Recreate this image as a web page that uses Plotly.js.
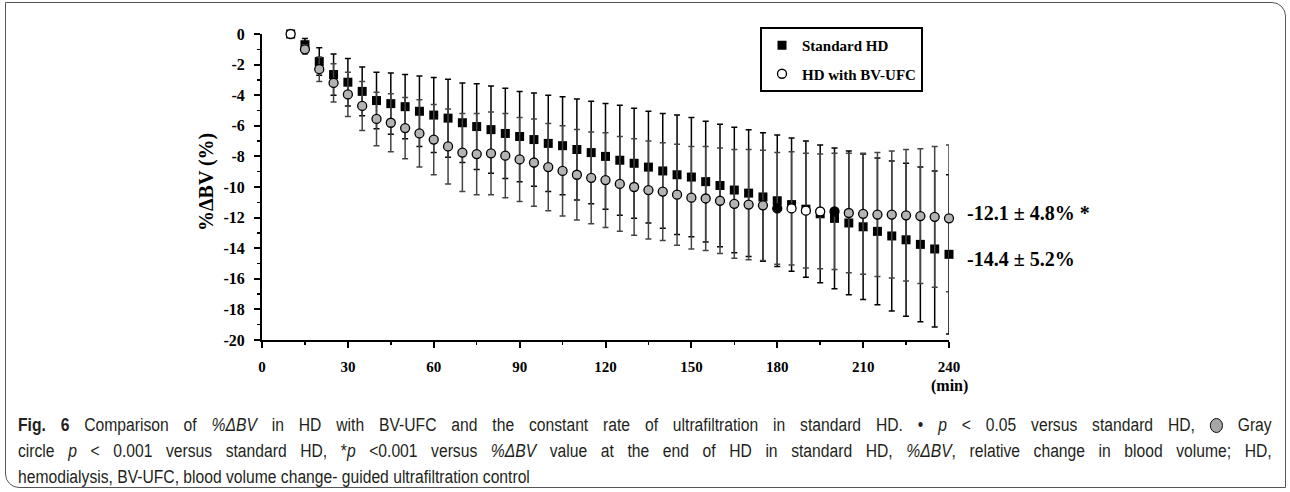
<!DOCTYPE html>
<html>
<head>
<meta charset="utf-8">
<script src="https://cdn.plot.ly/plotly-3.0.1.min.js"></script>
<style>
html,body{margin:0;padding:0;background:#fff;}
#chart{width:1290px;height:492px;position:absolute;left:0;top:0;}
#frame{position:absolute;left:5px;top:2px;width:1279px;height:484px;border:1px solid #555;border-radius:0 14px 0 14px;pointer-events:none;}
.cap{position:absolute;left:18px;width:1441px;font-family:'Liberation Sans',Arial,sans-serif;font-size:18px;line-height:22px;color:#231f20;white-space:nowrap;transform:scaleX(0.87);transform-origin:0 50%;}
.just{text-align:justify;text-align-last:justify;white-space:normal;}
.gc{display:inline-block;width:15px;height:15px;border-radius:50%;background:#a6a6a6;border:1.3px solid #000;vertical-align:-2px;box-sizing:border-box;}
</style>
</head>
<body>
<div id="chart"></div>
<div id="caption"></div>
<div id="frame"></div>
<script>
// ---- data ----
const minutes = [10,15,20,25,30,35,40,45,50,55,60,65,70,75,80,85,90,95,100,105,110,115,120,125,130,135,140,145,150,155,160,165,170,175,180,185,190,195,200,205,210,215,220,225,230,235,240];
const standardMean = [0,-0.7,-1.8,-2.65,-3.15,-3.75,-4.35,-4.55,-4.75,-5.05,-5.3,-5.5,-5.8,-6.05,-6.25,-6.5,-6.7,-6.9,-7.15,-7.3,-7.55,-7.75,-8.0,-8.25,-8.45,-8.7,-8.95,-9.2,-9.35,-9.65,-9.9,-10.2,-10.4,-10.65,-10.9,-11.15,-11.45,-11.75,-12.05,-12.35,-12.6,-12.9,-13.2,-13.45,-13.75,-14.05,-14.4];
const standardSD = [0,0.4,0.9,1.35,1.55,1.6,1.85,2.0,2.1,2.3,2.45,2.55,2.6,2.8,2.85,2.95,2.95,3.05,3.15,3.2,3.3,3.35,3.45,3.6,3.6,3.65,3.75,3.9,3.9,3.95,4.0,4.1,4.15,4.2,4.3,4.35,4.45,4.5,4.6,4.7,4.75,4.8,4.9,5.0,5.05,5.1,5.2];
const bvufcMean = [0,-1.0,-2.3,-3.2,-3.95,-4.7,-5.55,-5.8,-6.15,-6.5,-6.9,-7.35,-7.75,-7.85,-7.8,-7.95,-8.2,-8.4,-8.7,-8.95,-9.2,-9.4,-9.55,-9.8,-10.0,-10.2,-10.3,-10.5,-10.7,-10.75,-10.9,-11.1,-11.15,-11.2,-11.4,-11.4,-11.55,-11.6,-11.6,-11.7,-11.75,-11.8,-11.8,-11.85,-11.9,-11.95,-12.05];
const bvufcSD = [0,0.3,0.8,1.25,1.45,1.6,1.75,1.9,2.0,2.2,2.3,2.45,2.55,2.65,2.7,2.75,2.75,2.85,2.85,2.95,2.95,3.0,3.1,3.1,3.15,3.2,3.2,3.3,3.35,3.4,3.45,3.55,3.6,3.6,3.65,3.7,3.75,3.75,3.8,3.9,3.95,4.05,4.15,4.3,4.4,4.6,4.8];
// significance of HD with BV-UFC vs standard HD at each time point
const bvufcSignificance = ['ns','p001','p001','p001','p001','p001','p001','p001','p001','p001','p001','p001','p001','p001','p001','p001','p001','p001','p001','p001','p001','p001','p001','p001','p001','p001','p001','p001','p001','p001','p001','p001','p001','p001','p05','ns','ns','ns','p05','p001','p001','p001','p001','p001','p001','p001','p001'];
const seriesNames = ['Standard HD','HD with BV-UFC'];
const endLabels = ['-12.1 \u00B1 4.8% *','-14.4 \u00B1 5.2%'];
const xTicks = [0,30,60,90,120,150,180,210,240];
const yTicks = [0,-2,-4,-6,-8,-10,-12,-14,-16,-18,-20];
const yTickLabels = ['0','-2','-4','-6','-8','-10','-12','-14','-16','-18','-20'];
const yTitle = '%\u0394BV (%)';
const xTitle = '(min)';

// ---- styling ----
const sigColor = {ns:'#ffffff', p05:'#000000', p001:'#b3b3b3'};
const serif = 'Liberation Serif, Times New Roman, serif';
const L=262, R=949, T=34, B=340;
const px = x => (x-L)/(R-L);
const py = y => (B-y)/(B-T);

const traces = [
  {
    x: minutes, y: standardMean, name: seriesNames[0], type:'scatter', mode:'markers',
    legendgroup:'a', cliponaxis:false,
    marker:{symbol:'square', size:9, color:'#000', line:{width:0}},
    error_y:{type:'data', array: standardSD, visible:true, color:'#000', thickness:1.5, width:3}
  },
  {
    x: minutes, y: bvufcMean, name: seriesNames[1], type:'scatter', mode:'markers',
    legendgroup:'b', cliponaxis:false,
    marker:{symbol:'circle', size:9, color: bvufcSignificance.map(s=>sigColor[s]), line:{width:1.3, color:'#000'}},
    error_y:{type:'data', array: bvufcSD, visible:true, color:'#444', thickness:1.5, width:3}
  }
];

const annotations = [
  {xref:'paper', yref:'paper', x:px(207), y:py(182), text:yTitle, textangle:-90, showarrow:false,
   font:{family:serif, size:20, color:'#000', weight:'bold'}, xanchor:'center', yanchor:'middle'},
  {xref:'paper', yref:'paper', x:px(949), y:py(386), text:xTitle, showarrow:false,
   font:{family:serif, size:16, color:'#000', weight:'bold'}, xanchor:'center', yanchor:'middle'},
  {xref:'paper', yref:'paper', x:px(965), y:py(213), text:endLabels[0], showarrow:false,
   font:{family:serif, size:20, color:'#000', weight:'bold'}, xanchor:'left', yanchor:'middle'},
  {xref:'paper', yref:'paper', x:px(965), y:py(259), text:endLabels[1], showarrow:false,
   font:{family:serif, size:20, color:'#000', weight:'bold'}, xanchor:'left', yanchor:'middle'}
];

const layout = {
  width:1290, height:492,
  margin:{l:L, r:1290-R, t:T, b:492-B, pad:0},
  paper_bgcolor:'rgba(0,0,0,0)', plot_bgcolor:'rgba(0,0,0,0)',
  showlegend:true,
  legend:{x:px(760), y:py(27), xanchor:'left', yanchor:'top', bgcolor:'#fff', bordercolor:'#000', borderwidth:2,
          font:{family:serif, size:15, color:'#000', weight:'bold'}, traceorder:'grouped', tracegroupgap:6, itemwidth:30},
  xaxis:{range:[0,240], tickvals:xTicks, ticks:'outside', ticklen:6, tickwidth:2, tickcolor:'#000',
         showline:true, linewidth:2, linecolor:'#000', showgrid:false, zeroline:false, ticklabelstandoff:6,
         tickfont:{family:serif, size:15, color:'#000', weight:'bold'},
         minor:{dtick:15, tick0:0, ticks:'outside', ticklen:3, tickwidth:1.5, tickcolor:'#000', showgrid:false}},
  yaxis:{range:[-20,0], tickvals:yTicks, ticktext:yTickLabels, ticks:'outside', ticklen:6, tickwidth:2, tickcolor:'#000',
         showline:true, linewidth:2, linecolor:'#000', showgrid:false, zeroline:false, ticklabelstandoff:6,
         tickfont:{family:serif, size:16, color:'#000', weight:'bold'},
         minor:{dtick:1, tick0:0, ticks:'outside', ticklen:3, tickwidth:1.5, tickcolor:'#000', showgrid:false}},
  annotations: annotations
};

Plotly.newPlot('chart', traces, layout, {displayModeBar:false, staticPlot:true});

// ---- figure caption (justified like the journal page) ----
const captionLines = [
  '<b>Fig. 6</b> Comparison of <i>%\u0394BV</i> in HD with BV-UFC and the constant rate of ultrafiltration in standard HD. \u2022 <i>p</i> &lt; 0.05 versus standard HD, <span class="gc"></span> Gray',
  'circle <i>p</i> &lt; 0.001 versus standard HD, *<i>p</i> &lt;0.001 versus <i>%\u0394BV</i> value at the end of HD in standard HD, <i>%\u0394BV</i>, relative change in blood volume; HD,',
  'hemodialysis, BV-UFC, blood volume change- guided ultrafiltration control'
];
const captionY = [425, 451, 477];
const capEl = document.getElementById('caption');
captionLines.forEach((t,i)=>{
  const d = document.createElement('div');
  d.className = 'cap' + (i < captionLines.length-1 ? ' just' : '');
  d.style.top = (captionY[i]-11) + 'px';
  d.innerHTML = t;
  capEl.appendChild(d);
});
</script>
</body>
</html>
